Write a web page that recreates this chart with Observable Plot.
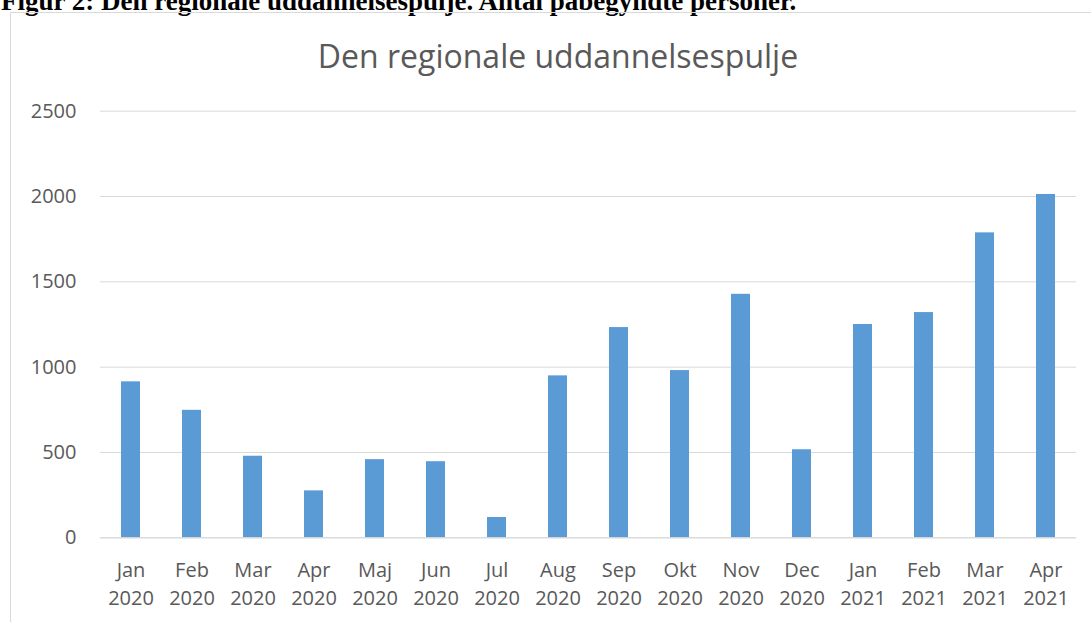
<!DOCTYPE html>
<html>
<head>
<meta charset="utf-8">
<script src="https://cdn.jsdelivr.net/npm/d3@7"></script>
<script src="https://cdn.jsdelivr.net/npm/@observablehq/plot@0.6"></script>
<style>
  html, body { margin: 0; padding: 0; background: #fff; }
  #wrap { position: relative; width: 1091px; height: 622px; overflow: hidden; background: #fff; }
  #fig { position: absolute; left: 1px; top: -12.5px; font-family: "Liberation Serif", "Times New Roman", serif; font-weight: bold; font-size: 27px; line-height: 1; color: #000; white-space: nowrap; }
  #frame { position: absolute; left: 10px; top: 12px; width: 1200px; height: 700px; border: 1px solid #D9D9D9; box-sizing: border-box; }
  #title { position: absolute; left: 0; width: 1116px; top: 39.5px; text-align: center; font-family: "Open Sans", sans-serif; font-size: 32px; line-height: 1; color: #595959; white-space: nowrap; }
  #chart { position: absolute; left: 0; top: 0; }
</style>
</head>
<body>
<div id="wrap">
  <div id="fig">Figur 2: Den regionale uddannelsespulje. Antal påbegyndte personer.</div>
  <div id="frame"></div>
  <div id="title">Den regionale uddannelsespulje</div>
  <div id="chart"></div>
</div>
<script>
const months = ["Jan","Feb","Mar","Apr","Maj","Jun","Jul","Aug","Sep","Okt","Nov","Dec","Jan","Feb","Mar","Apr"];
const years = [2020,2020,2020,2020,2020,2020,2020,2020,2020,2020,2020,2020,2021,2021,2021,2021];
const values = [914, 747, 478, 275, 458, 446, 119, 949, 1232, 980, 1427, 516, 1250, 1320, 1787, 2012];
const yTicks = [0, 500, 1000, 1500, 2000, 2500];

const labels = months.map((m, i) => `${m}\n${years[i]}`);
const data = labels.map((l, i) => ({label: l, value: values[i]}));

const chart = Plot.plot({
  width: 1091,
  height: 622,
  marginTop: 110.7,
  marginBottom: 84.7,
  marginLeft: 100,
  marginRight: 15,
  style: {background: "transparent", fontFamily: "Open Sans, sans-serif", color: "#595959"},
  x: {domain: labels, paddingInner: 0.69, paddingOuter: 0.345, label: null},
  y: {domain: [0, 2500], label: null},
  marks: [
    Plot.gridY(yTicks, {stroke: "#D9D9D9", strokeOpacity: 1, strokeWidth: 1}),
    Plot.barY(data, {x: "label", y: "value", fill: "#5B9BD5"}),
    Plot.ruleY([0], {stroke: "#D9D9D9", strokeWidth: 1}),
    Plot.axisY(yTicks, {tickSize: 0, tickPadding: 24, fontSize: 20, fill: "#595959", label: null, tickFormat: d => String(d)}),
    Plot.axisX({tickSize: 0, tickPadding: 19, fontSize: 20, lineHeight: 1.4, fill: "#595959", label: null})
  ]
});
document.getElementById("chart").appendChild(chart);
</script>
</body>
</html>
